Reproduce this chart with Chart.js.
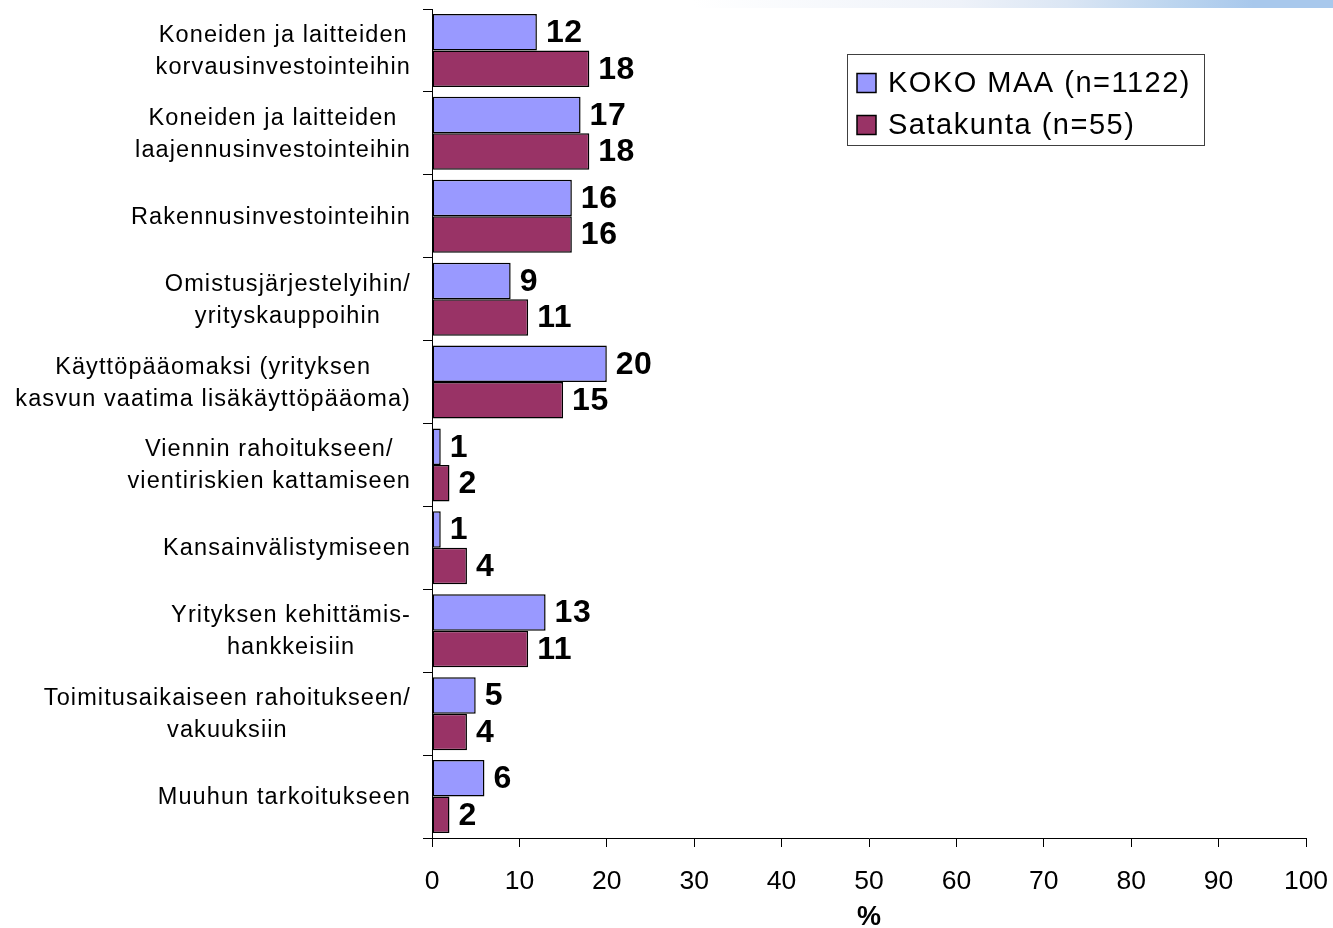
<!DOCTYPE html>
<html>
<head>
<meta charset="utf-8">
<style>
  html, body { margin: 0; padding: 0; background: #ffffff; }
  #wrap { position: relative; width: 1333px; height: 928px; }
  #band { position: absolute; left: 0; top: 0; width: 1333px; height: 8px;
    background: linear-gradient(to right, #ffffff 0%, #ffffff 52%, #eef2f9 72%, #dbe6f4 80%, #bcd5ef 88%, #a8c8ec 94%, #a8c8ec 100%); }
  canvas { position: absolute; left: 0; top: 0; }
</style>
<script src="https://cdn.jsdelivr.net/npm/chart.js@4/dist/chart.umd.min.js"></script>
</head>
<body>
<div id="wrap">
  <canvas id="c" width="1333" height="928"></canvas>
  <div id="band"></div>
</div>
<script>
const categories = [
  ['Koneiden ja laitteiden', 'korvausinvestointeihin'],
  ['Koneiden ja laitteiden', 'laajennusinvestointeihin'],
  ['Rakennusinvestointeihin'],
  ['Omistusjärjestelyihin/', 'yrityskauppoihin'],
  ['Käyttöpääomaksi (yrityksen', 'kasvun vaatima lisäkäyttöpääoma)'],
  ['Viennin rahoitukseen/', 'vientiriskien kattamiseen'],
  ['Kansainvälistymiseen'],
  ['Yrityksen kehittämis-', 'hankkeisiin'],
  ['Toimitusaikaiseen rahoitukseen/', 'vakuuksiin'],
  ['Muuhun tarkoitukseen']
];
const seriesNames = ['KOKO MAA (n=1122)', 'Satakunta (n=55)'];
const kokoMaa = [12, 17, 16, 9, 20, 1, 1, 13, 5, 6];
const satakunta = [18, 18, 16, 11, 15, 2, 4, 11, 4, 2];
const xMin = 0, xMax = 100, xStep = 10;
const xTitle = '%';

const FONT = '"Liberation Sans", Arial, sans-serif';

const yLabelPlugin = {
  id: 'yLabels',
  afterDraw(chart) {
    const ctx = chart.ctx;
    const ys = chart.scales.y;
    ctx.save();
    ctx.font = '23.5px ' + FONT;
    ctx.letterSpacing = '1.1px';
    ctx.fillStyle = '#000';
    ctx.textAlign = 'center';
    ctx.textBaseline = 'middle';
    const lh = 32;
    const rightEdge = 411;
    chart.data.labels.forEach((lab, i) => {
      const lines = Array.isArray(lab) ? lab : [lab];
      let maxW = 0;
      lines.forEach(l => { maxW = Math.max(maxW, ctx.measureText(l).width); });
      const cx = rightEdge - maxW / 2;
      const cy = ys.getPixelForTick(i);
      const start = cy - (lines.length - 1) * lh / 2 + 1;
      lines.forEach((l, k) => ctx.fillText(l, cx, start + k * lh));
    });
    ctx.restore();
  }
};

const valueLabelPlugin = {
  id: 'valueLabels',
  afterDatasetsDraw(chart) {
    const ctx = chart.ctx;
    ctx.save();
    ctx.font = 'bold 32px ' + FONT;
    ctx.letterSpacing = '0.5px';
    ctx.fillStyle = '#000';
    ctx.textAlign = 'left';
    ctx.textBaseline = 'middle';
    chart.data.datasets.forEach((ds, di) => {
      const meta = chart.getDatasetMeta(di);
      meta.data.forEach((el, i) => {
        ctx.fillText(String(ds.data[i]), el.x + 9, el.y + 1);
      });
    });
    ctx.restore();
  }
};

const legendPlugin = {
  id: 'boxLegend',
  afterDraw(chart) {
    const ctx = chart.ctx;
    ctx.save();
    const bx = 847, by = 54, bw = 357, bh = 91;
    ctx.fillStyle = '#ffffff';
    ctx.fillRect(bx, by, bw, bh);
    ctx.strokeStyle = '#404040';
    ctx.lineWidth = 1;
    ctx.strokeRect(bx + 0.5, by + 0.5, bw, bh);
    ctx.font = '29px ' + FONT;
    ctx.letterSpacing = '1.5px';
    ctx.textAlign = 'left';
    ctx.textBaseline = 'middle';
    const rows = [83, 125];
    chart.data.datasets.forEach((ds, i) => {
      const cy = rows[i];
      ctx.fillStyle = ds.backgroundColor;
      ctx.fillRect(857, cy - 9.5, 19, 19);
      ctx.strokeStyle = '#000';
      ctx.lineWidth = 1.5;
      ctx.strokeRect(857, cy - 9.5, 19, 19);
      ctx.fillStyle = '#000';
      ctx.fillText(ds.label, 888, cy + 1);
    });
    ctx.restore();
  }
};

new Chart(document.getElementById('c'), {
  type: 'bar',
  data: {
    labels: categories,
    datasets: [
      { label: seriesNames[0], data: kokoMaa, backgroundColor: '#9999ff', borderColor: '#000000', borderWidth: 1.5, borderSkipped: false },
      { label: seriesNames[1], data: satakunta, backgroundColor: '#993366', borderColor: '#000000', borderWidth: 1.5, borderSkipped: false }
    ]
  },
  options: {
    indexAxis: 'y',
    responsive: false,
    animation: false,
    devicePixelRatio: 1,
    layout: { padding: { top: 9, right: 27, left: 0, bottom: 0 } },
    datasets: { bar: { categoryPercentage: 0.88, barPercentage: 1.0 } },
    plugins: { legend: { display: false }, tooltip: { enabled: false } },
    scales: {
      x: {
        type: 'linear',
        min: xMin, max: xMax,
        ticks: { stepSize: xStep, color: '#000', font: { family: FONT, size: 26.5 }, padding: 19 },
        grid: { drawOnChartArea: false, drawTicks: true, tickLength: 9, color: '#000', tickColor: '#000' },
        border: { display: true, color: '#000', width: 1 },
        title: { display: true, text: xTitle, color: '#000', font: { family: FONT, size: 27, weight: 'bold', lineHeight: 0.8 }, padding: 0 },
        afterFit(s) { s.height = 90; s.paddingLeft = 0; s.paddingRight = 0; }
      },
      y: {
        type: 'category',
        ticks: { display: false },
        grid: { drawOnChartArea: false, drawTicks: true, tickLength: 9, offset: true, color: '#000', tickColor: '#000' },
        border: { display: true, color: '#000', width: 1 },
        afterFit(s) { s.width = 432; s.paddingTop = 0; s.paddingBottom = 0; }
      }
    }
  },
  plugins: [yLabelPlugin, valueLabelPlugin, legendPlugin]
});
</script>
</body>
</html>
